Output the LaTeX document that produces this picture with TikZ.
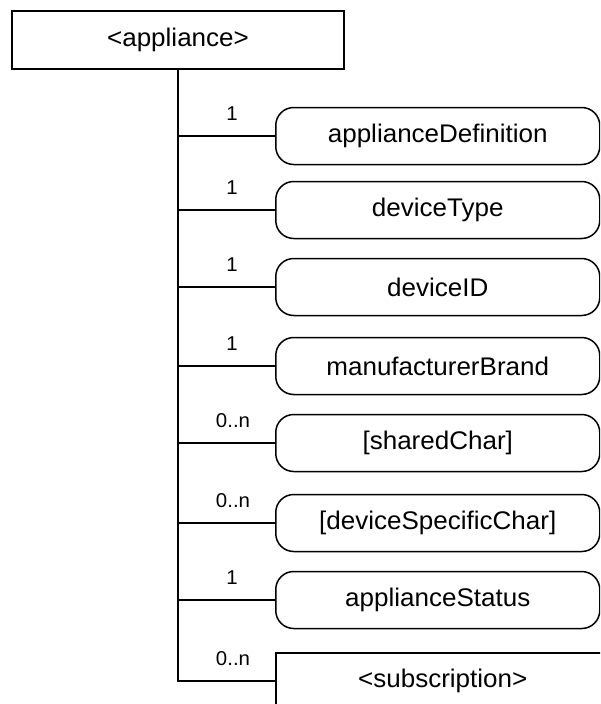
\documentclass[tikz,border=0pt]{standalone}
\usepackage{fontspec}
\setmainfont{Liberation Sans}[FakeStretch=1.02]
\begin{document}
\begin{tikzpicture}[x=1pt,y=-1pt,line width=1.5pt,
  topbox/.style={draw, minimum width=332pt, minimum height=58pt, inner sep=0pt, font=\fontsize{25.5}{28}\selectfont},
  rbox/.style={draw, rounded corners=18pt, minimum width=324pt, minimum height=57pt, inner sep=0pt, anchor=west, font=\fontsize{25.5}{28}\selectfont},
  sbox/.style={draw, minimum width=334pt, minimum height=57pt, inner sep=0pt, anchor=north west, font=\fontsize{25.5}{28}\selectfont},
  mult/.style={inner sep=0pt, font=\fontsize{20}{23}\selectfont},
  conn/.style={line width=1.5pt}]
\useasboundingbox (0,0) rectangle (600,704);
\clip (0,0) rectangle (600,704);
\node[topbox] (app) at (178,40) {<appliance>};
\node[rbox] (b1) at (275,136) {applianceDefinition};
\node[rbox] (b2) at (275,210) {deviceType};
\node[rbox] (b3) at (275,287) {deviceID};
\node[rbox] (b4) at (275,366) {manufacturerBrand};
\node[rbox] (b5) at (275,443) {[sharedChar]};
\node[rbox] (b6) at (275,523) {[deviceSpecificChar]};
\node[rbox] (b7) at (275,600) {applianceStatus};
\node[sbox] (b8) at (275,652) {<subscription>};
\coordinate (c8) at (275,681);
\draw[conn] (app.south) |- (c8);
\foreach \i in {1,...,7}{
  \draw[conn] (app.south |- b\i.west) -- (b\i.west);
}
\node[mult] (m1) at (232,114) {1};
\node[mult] (m2) at (232,188) {1};
\node[mult] (m3) at (232,265) {1};
\node[mult] (m4) at (232,344) {1};
\node[mult] (m5) at (233,421) {0..n};
\node[mult] (m6) at (233,501) {0..n};
\node[mult] (m7) at (232,578) {1};
\node[mult] (m8) at (233,659) {0..n};
\end{tikzpicture}
\end{document}
